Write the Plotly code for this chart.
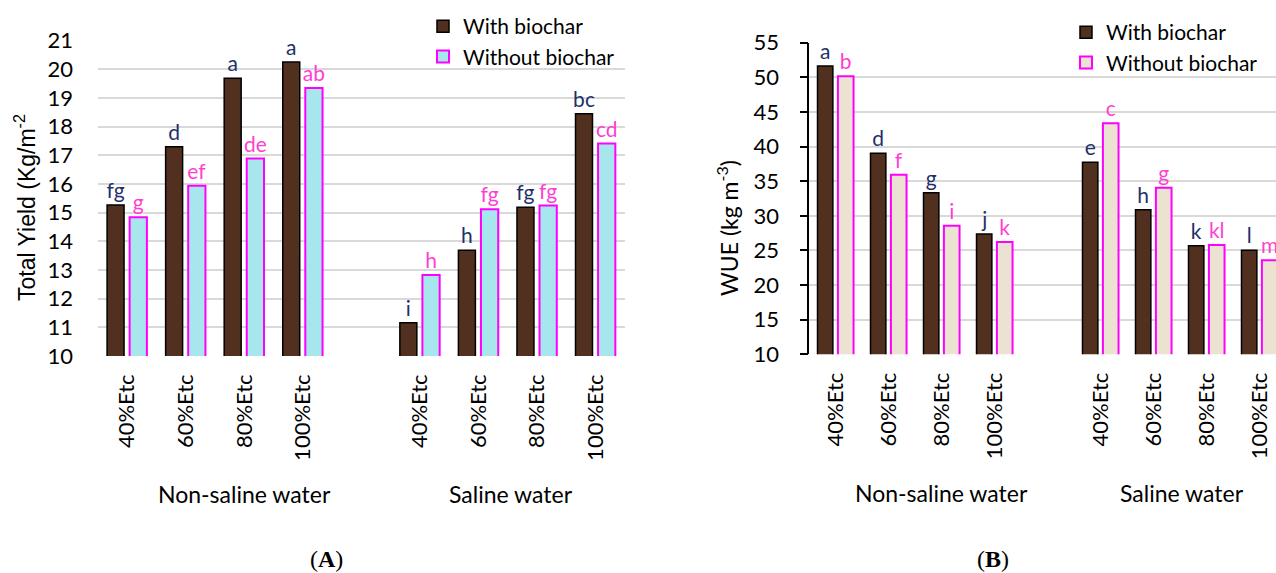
import plotly.graph_objects as go

# ---------------- data ----------------
group_names = ["Non-saline water", "Saline water"]
levels = ["40%Etc", "60%Etc", "80%Etc", "100%Etc"]
x_pos = [0, 1, 2, 3, 5, 6, 7, 8]          # slot 4 is the empty gap between groups
tick_labels = levels + levels

yield_with = [15.27, 17.30, 19.69, 20.26, 11.16, 13.69, 15.19, 18.45]
yield_without = [14.84, 15.94, 16.89, 19.35, 12.83, 15.12, 15.25, 17.41]
yield_with_letters = ["fg", "d", "a", "a", "i", "h", "fg", "bc"]
yield_without_letters = ["g", "ef", "de", "ab", "h", "fg", "fg", "cd"]

wue_with = [51.64, 39.03, 33.34, 27.37, 37.73, 30.88, 25.68, 25.02]
wue_without = [50.15, 35.94, 28.57, 26.22, 43.36, 34.06, 25.78, 23.58]
wue_with_letters = ["a", "d", "g", "j", "e", "h", "k", "l"]
wue_without_letters = ["b", "f", "i", "k", "c", "g", "kl", "m"]

# ---------------- styling ----------------
W, H = 1276, 573
FONT = "Lato"
NAVY = "#1F3068"
PINK = "#FF3FCF"
BROWN = "#51301F"
CYAN = "#A8E6EE"
BEIGE = "#ECE2D2"
MAGENTA = "#FF00FF"
GRID = "#D9D9D9"


def px_x(p):
    return p / W


def px_y(p):
    return 1 - p / H


fig = go.Figure()


def add_pair(xa, ya, with_vals, without_vals, with_txt, without_txt, fill_without, legend):
    fig.add_trace(go.Bar(
        x=x_pos, y=with_vals, name="With biochar",
        offset=-0.345, width=0.29,
        marker=dict(color=BROWN, line=dict(color="#000000", width=1.5)),
        text=with_txt, textposition="outside", constraintext="none", cliponaxis=False,
        outsidetextfont=dict(family=FONT, size=21, color=NAVY),
        xaxis=xa, yaxis=ya, legend=legend, hoverinfo="skip",
    ))
    fig.add_trace(go.Bar(
        x=x_pos, y=without_vals, name="Without biochar",
        offset=0.04, width=0.295,
        marker=dict(color=fill_without, line=dict(color=MAGENTA, width=2)),
        text=without_txt, textposition="outside", constraintext="none", cliponaxis=False,
        outsidetextfont=dict(family=FONT, size=21, color=PINK),
        xaxis=xa, yaxis=ya, legend=legend, hoverinfo="skip",
    ))


add_pair("x", "y", yield_with, yield_without, yield_with_letters, yield_without_letters, CYAN, "legend")
add_pair("x2", "y2", wue_with, wue_without, wue_with_letters, wue_without_letters, BEIGE, "legend2")

xcommon = dict(
    tickmode="array", tickvals=x_pos, ticktext=tick_labels, tickangle=-90,
    showgrid=False, zeroline=False, showline=False, ticks="",
    tickfont=dict(family=FONT, size=22, color="#000000"),
    ticklabelstandoff=13, automargin=False, fixedrange=True,
)

fig.update_layout(
    width=W, height=H,
    margin=dict(l=0, r=0, t=0, b=0),
    paper_bgcolor="white", plot_bgcolor="white",
    barmode="group",
    font=dict(family=FONT, color="#000000"),
    xaxis=dict(domain=[px_x(98), px_x(625)], range=[-0.5, 8.5], anchor="y", **xcommon),
    yaxis=dict(
        domain=[px_y(356), px_y(40.7)], range=[10, 21], dtick=1, tick0=10,
        showgrid=True, gridcolor=GRID, gridwidth=1.5, zeroline=False, showline=False, ticks="",
        tickfont=dict(family=FONT, size=22, color="#000000"), ticklabelstandoff=24,
        automargin=False, anchor="x", fixedrange=True,
    ),
    xaxis2=dict(domain=[px_x(809.3), 1], range=[-0.5, 8.306], anchor="y2", **xcommon),
    yaxis2=dict(
        domain=[px_y(354.3), px_y(42.7)], range=[10, 55], dtick=5, tick0=10,
        showgrid=True, gridcolor=GRID, gridwidth=1.5, zeroline=False,
        showline=True, linecolor="#000000", linewidth=1.5,
        ticks="outside", ticklen=8, tickwidth=1.5, tickcolor="#000000",
        tickfont=dict(family=FONT, size=22, color="#000000"), ticklabelstandoff=16,
        automargin=False, anchor="x2", fixedrange=True,
    ),
    legend=dict(
        x=px_x(423), y=px_y(6), xanchor="left", yanchor="top",
        font=dict(family=FONT, size=21, color="#000000"), bgcolor="rgba(0,0,0,0)",
        itemclick=False, itemdoubleclick=False,
    ),
    legend2=dict(
        x=px_x(1066), y=px_y(12), xanchor="left", yanchor="top",
        font=dict(family=FONT, size=21, color="#000000"), bgcolor="rgba(0,0,0,0)",
        itemclick=False, itemdoubleclick=False,
    ),
    showlegend=True,
)


def ann(text, x, y, xref="paper", size=23, family=FONT, angle=0):
    return dict(text=text, x=x, y=y, xref=xref, yref="paper", xanchor="center", yanchor="middle",
                textangle=angle, showarrow=False, font=dict(family=family, size=size, color="#000000"))


annotations = [
    ann("Total Yield (Kg/m<sup>-2</sup>", px_x(25), px_y(208), size=23, family="Liberation Sans", angle=-90),
    ann("WUE (kg m<sup>-3</sup>)", px_x(727), px_y(228), size=23, angle=-90),
    ann(group_names[0], 2.0, px_y(494), xref="x"),
    ann(group_names[1], 6.55, px_y(494), xref="x"),
    ann(group_names[0], 2.0, px_y(493), xref="x2"),
    ann(group_names[1], 6.54, px_y(493), xref="x2"),
    ann("(<b>A</b>)", px_x(327), px_y(559), size=24, family="Liberation Serif"),
    ann("(<b>B</b>)", px_x(993), px_y(559), size=24, family="Liberation Serif"),
]
fig.update_layout(annotations=annotations)

fig.write_html(
    "out.html",
    config={"displayModeBar": False},
    post_script="document.body.style.margin='0';document.body.style.padding='0';",
)
